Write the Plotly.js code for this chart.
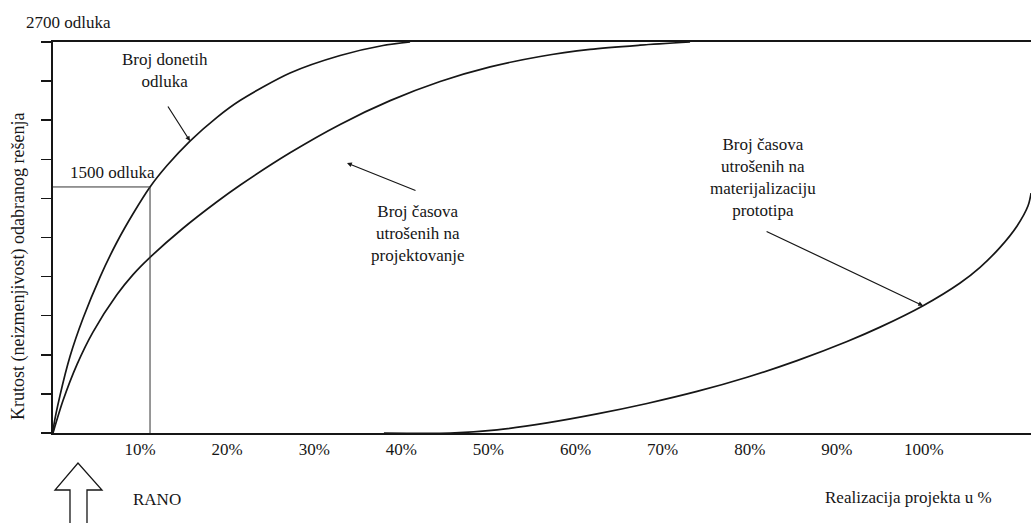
<!DOCTYPE html>
<html>
<head>
<meta charset="utf-8">
<script src="https://cdn.plot.ly/plotly-3.0.1.min.js"></script>
<style>
  html, body { margin: 0; padding: 0; background: #ffffff; }
  #chart { width: 1031px; height: 523px; }
</style>
</head>
<body>
<div id="chart"></div>
<script>
// ---- data (x: realizacija projekta u %, y: krutost / broj odluka, 0..2700) ----
const decisionsX = [0, 0.10, 0.80, 1.95, 3.45, 5.40, 7.35, 9.19, 11.14, 13.09, 15.73, 18.83, 21.47, 27.22, 32.97, 37.90, 41.00];
const decisionsY = [0, 55, 258, 528, 792, 1077, 1319, 1514, 1699, 1847, 2016, 2180, 2296, 2486, 2607, 2676, 2700];

const designX = [0, 1.15, 2.76, 4.59, 7.35, 9.19, 11.14, 14.93, 18.83, 21.47, 27.22, 32.97, 38.71, 44.45, 50.20, 55.94, 61.67, 67.41, 73.15];
const designY = [0, 224, 474, 697, 956, 1094, 1213, 1414, 1597, 1711, 1935, 2131, 2295, 2427, 2528, 2600, 2649, 2678, 2700];

const prototypeX = [38.0, 45.59, 50.99, 56.73, 62.47, 68.21, 73.95, 79.70, 85.44, 91.18, 94.97, 99.91, 104.16, 106.45, 108.75, 110.70, 111.96, 112.31];
const prototypeY = [0, 0, 22, 70, 132, 204, 287, 385, 500, 632, 731, 879, 1036, 1144, 1282, 1430, 1569, 1657];

// guide point "1500 odluka" at about 10 % of the project
const guideX = [11.14];
const guideY = [1699];

const tickValues = [10, 20, 30, 40, 50, 60, 70, 80, 90, 100];
const tickLabels = ['10%', '20%', '30%', '40%', '50%', '60%', '70%', '80%', '90%', '100%'];

const yMax = 2700;
const yTickStep = 270;

// ---- drawing ----
const ink = '#161616';
const serif = 'Liberation Serif';

const curveLine = { color: ink, width: 1.7, shape: 'spline', smoothing: 0.8 };
const traces = [
  { x: decisionsX, y: decisionsY, mode: 'lines', line: curveLine, hoverinfo: 'skip' },
  { x: designX, y: designY, mode: 'lines', line: curveLine, hoverinfo: 'skip' },
  { x: prototypeX, y: prototypeY, mode: 'lines', line: curveLine, hoverinfo: 'skip' },
  { x: [0, guideX[0], guideX[0]], y: [guideY[0], guideY[0], 0], mode: 'lines', line: { color: '#333', width: 1 }, hoverinfo: 'skip' }
];

function px2paperX(px) { return (px - 53) / 978; }
function px2paperY(py) { return (433 - py) / 391; }

const arrowPath = [
  [70, 535], [70, 490], [55, 490], [78, 463], [102, 490], [87, 490], [87, 535]
].map((p, i) => (i === 0 ? 'M ' : 'L ') + px2paperX(p[0]).toFixed(5) + ',' + px2paperY(p[1]).toFixed(5)).join(' ');

const textFont = { family: serif, size: 17, color: ink };

const layout = {
  width: 1031,
  height: 523,
  margin: { l: 53, r: 0, t: 42, b: 90, pad: 0 },
  paper_bgcolor: '#ffffff',
  plot_bgcolor: '#ffffff',
  showlegend: false,
  font: textFont,
  xaxis: {
    range: [0, 112.3],
    showgrid: false,
    zeroline: false,
    showline: true,
    linecolor: ink,
    linewidth: 2,
    mirror: true,
    ticks: '',
    tickvals: tickValues,
    ticktext: tickLabels,
    tickfont: { family: serif, size: 17, color: ink },
    fixedrange: true
  },
  yaxis: {
    range: [0, yMax],
    showgrid: false,
    zeroline: false,
    showline: true,
    linecolor: ink,
    linewidth: 2,
    ticks: 'outside',
    ticklen: 10,
    tickwidth: 1.5,
    tickcolor: ink,
    tick0: 0,
    dtick: yTickStep,
    showticklabels: false,
    fixedrange: true
  },
  shapes: [
    { type: 'path', xref: 'paper', yref: 'paper', path: arrowPath, line: { color: ink, width: 1.3 }, fillcolor: 'rgba(0,0,0,0)', layer: 'above' }
  ],
  annotations: [
    { xref: 'paper', yref: 'paper', x: px2paperX(68), y: px2paperY(23), text: '2700 odluka', showarrow: false, font: textFont, xanchor: 'center', yanchor: 'middle' },
    { xref: 'paper', yref: 'paper', x: px2paperX(18), y: px2paperY(267), text: 'Krutost (neizmenjivost) odabranog rešenja', textangle: -90, showarrow: false, font: { family: serif, size: 18, color: ink }, xanchor: 'center', yanchor: 'middle' },
    { xref: 'paper', yref: 'paper', x: px2paperX(157), y: px2paperY(499), text: 'RANO', showarrow: false, font: textFont, xanchor: 'center', yanchor: 'middle' },
    { xref: 'paper', yref: 'paper', x: px2paperX(908), y: px2paperY(497), text: 'Realizacija projekta u %', showarrow: false, font: textFont, xanchor: 'center', yanchor: 'middle' },
    { xref: 'x', yref: 'y', x: 6.78, y: 1802, text: '1500 odluka', showarrow: false, font: textFont, xanchor: 'center', yanchor: 'middle' },
    { xref: 'x', yref: 'y', x: 12.86, y: 2500, text: 'Broj donetih<br>odluka', showarrow: false, font: textFont, xanchor: 'center', yanchor: 'middle' },
    { xref: 'x', yref: 'y', x: 41.9, y: 1381, text: 'Broj časova<br>utrošenih na<br>projektovanje', showarrow: false, font: textFont, xanchor: 'center', yanchor: 'middle' },
    { xref: 'x', yref: 'y', x: 81.5, y: 1761, text: 'Broj časova<br>utrošenih na<br>materijalizaciju<br>prototipa', showarrow: false, font: textFont, xanchor: 'center', yanchor: 'middle' },
    // pointer arrows
    { xref: 'x', yref: 'y', x: 15.73, y: 2016, ax: -23, ay: -36, text: '', showarrow: true, arrowhead: 2, arrowsize: 0.8, arrowwidth: 1.2, arrowcolor: ink },
    { xref: 'x', yref: 'y', x: 33.76, y: 1864, ax: 70, ay: 28, text: '', showarrow: true, arrowhead: 2, arrowsize: 0.8, arrowwidth: 1.2, arrowcolor: ink },
    { xref: 'x', yref: 'y', x: 99.91, y: 879, ax: -158, ay: -75, text: '', showarrow: true, arrowhead: 2, arrowsize: 0.8, arrowwidth: 1.2, arrowcolor: ink }
  ]
};

Plotly.newPlot('chart', traces, layout, { staticPlot: true, displayModeBar: false });
</script>
</body>
</html>
